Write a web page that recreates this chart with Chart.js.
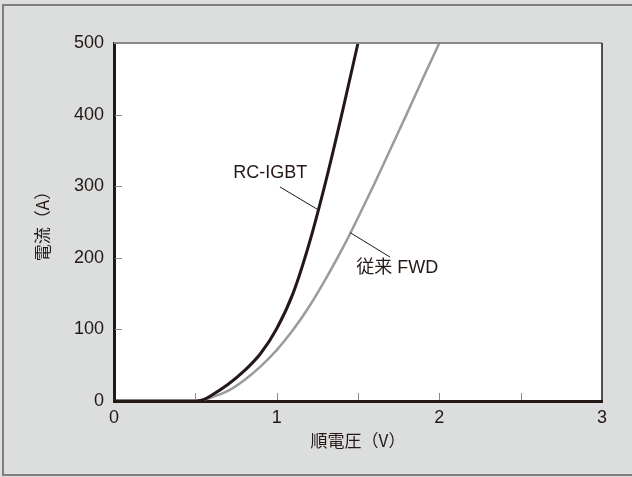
<!DOCTYPE html>
<html>
<head>
<meta charset="utf-8">
<script src="https://cdn.jsdelivr.net/npm/chart.js@4.4.0/dist/chart.umd.min.js"></script>
<style>
html, body { margin: 0; padding: 0; background: #dcdddd; }
#ivChart { display: block; }
</style>
</head>
<body>
<canvas id="ivChart" width="632" height="477"></canvas>
<script>
// forward voltage (V) vs current (A)
var igbtVoltage = [0, 0.5, 0.55, 0.6, 0.7, 0.8, 0.9, 1.0, 1.1, 1.2, 1.3, 1.4, 1.5];
var igbtCurrent = [0, 0, 2, 8, 23, 42, 66, 101, 150, 220, 305, 400, 500];
var fwdVoltage = [0, 0.5, 0.6, 0.7, 0.8, 0.9, 1.0, 1.1, 1.2, 1.3, 1.4, 1.5, 1.6, 1.7, 1.8, 1.9, 2.0];
var fwdCurrent = [0, 0, 5, 14, 29, 48, 71, 99, 132, 170, 211, 256, 303, 352, 401, 451, 500];
var seriesNames = ['RC-IGBT', '従来 FWD'];
var xTitle = '順電圧（V）';
var yTitle = '電流（A）';

var ink = '#231815';
var latin = '"Liberation Sans", "Noto Sans CJK JP", sans-serif';
var jp = '"Noto Sans CJK JP", sans-serif';

function toPoints(xs, ys) {
    var pts = [];
    for (var i = 0; i < xs.length; i++) {
        pts.push({ x: xs[i], y: ys[i] });
    }
    return pts;
}

// callout text + leader line, in data units
var callouts = [
    { text: seriesNames[0], tx: 0.96, ty: 318, align: 'center', from: [1.02, 299], to: [1.255, 267] },
    { text: seriesNames[1], tx: 1.49, ty: 186, align: 'left', from: [1.697, 201], to: [1.453, 235] }
];

var framePlugin = {
    id: 'frame',
    beforeDraw: function (chart) {
        var c = chart.ctx;
        var a = chart.chartArea;
        c.save();
        c.fillStyle = '#dcdddd';
        c.fillRect(0, 0, chart.width, chart.height);
        c.strokeStyle = '#7e7e7e';
        c.lineWidth = 2;
        c.beginPath();
        c.moveTo(chart.width, 5);
        c.lineTo(3, 5);
        c.lineTo(3, 475);
        c.lineTo(chart.width, 475);
        c.stroke();
        c.fillStyle = '#ffffff';
        c.fillRect(a.left, a.top, a.right - a.left, a.bottom - a.top);
        c.restore();
    },
    afterDatasetsDraw: function (chart) {
        var c = chart.ctx;
        var a = chart.chartArea;
        var xs = chart.scales.x;
        var ys = chart.scales.y;
        c.save();

        // top and right edges of the plot box
        c.strokeStyle = '#898989';
        c.lineWidth = 2;
        c.beginPath();
        c.moveTo(a.left, a.top);
        c.lineTo(a.right, a.top);
        c.stroke();
        c.strokeStyle = ink;
        c.lineWidth = 1.5;
        c.beginPath();
        c.moveTo(a.right, a.top);
        c.lineTo(a.right, a.bottom);
        c.stroke();

        // inward tick marks
        c.strokeStyle = '#8a8a8a';
        c.lineWidth = 1;
        c.beginPath();
        xs.ticks.forEach(function (t) {
            if (t.value <= xs.min || t.value >= xs.max) return;
            var px = Math.round(xs.getPixelForValue(t.value)) + 0.5;
            c.moveTo(px, a.bottom - 1);
            c.lineTo(px, a.bottom - 8);
        });
        ys.ticks.forEach(function (t) {
            if (t.value <= ys.min || t.value >= ys.max) return;
            var py = Math.round(ys.getPixelForValue(t.value)) + 0.5;
            c.moveTo(a.left + 1, py);
            c.lineTo(a.left + 8, py);
        });
        c.stroke();

        // callouts
        c.strokeStyle = ink;
        c.lineWidth = 1;
        c.fillStyle = ink;
        c.font = '18px ' + latin;
        c.textBaseline = 'middle';
        callouts.forEach(function (co) {
            c.beginPath();
            c.moveTo(xs.getPixelForValue(co.from[0]), ys.getPixelForValue(co.from[1]));
            c.lineTo(xs.getPixelForValue(co.to[0]), ys.getPixelForValue(co.to[1]));
            c.stroke();
            c.textAlign = co.align;
            c.fillText(co.text, xs.getPixelForValue(co.tx), ys.getPixelForValue(co.ty));
        });
        c.restore();
    }
};

document.addEventListener('DOMContentLoaded', function () {
    var ivChart = new Chart(document.getElementById('ivChart'), {
        type: 'scatter',
        data: {
            datasets: [{
                label: seriesNames[0],
                data: toPoints(igbtVoltage, igbtCurrent),
                showLine: true,
                borderColor: ink,
                borderWidth: 3,
                pointRadius: 0,
                cubicInterpolationMode: 'monotone'
            }, {
                label: seriesNames[1],
                data: toPoints(fwdVoltage, fwdCurrent),
                showLine: true,
                borderColor: '#9a9b9b',
                borderWidth: 2.5,
                pointRadius: 0,
                cubicInterpolationMode: 'monotone'
            }]
        },
        options: {
            responsive: false,
            animation: false,
            devicePixelRatio: 1,
            layout: { padding: { left: 0, top: 43, right: 30, bottom: 0 } },
            plugins: {
                legend: { display: false },
                tooltip: { enabled: false }
            },
            scales: {
                x: {
                    type: 'linear',
                    min: 0,
                    max: 3,
                    afterFit: function (s) { s.height = 76; },
                    grid: { display: false, drawTicks: false },
                    border: { display: true, color: ink, width: 3 },
                    ticks: {
                        stepSize: 0.5,
                        padding: 6,
                        autoSkip: false,
                        maxRotation: 0,
                        color: ink,
                        font: { family: latin, size: 18 },
                        callback: function (v) { return Number.isInteger(v) ? String(v) : ''; }
                    },
                    title: {
                        display: true,
                        text: xTitle,
                        color: ink,
                        font: { family: jp, size: 17 },
                        padding: { top: 0, bottom: 26 }
                    }
                },
                y: {
                    min: 0,
                    max: 500,
                    afterFit: function (s) { s.width = 114; },
                    grid: { display: false, drawTicks: false },
                    border: { display: true, color: ink, width: 3 },
                    ticks: {
                        stepSize: 100,
                        padding: 10,
                        color: ink,
                        font: { family: latin, size: 18 }
                    },
                    title: {
                        display: true,
                        text: yTitle,
                        color: ink,
                        font: { family: jp, size: 17 },
                        padding: { top: 32, bottom: 0 }
                    }
                }
            }
        },
        plugins: [framePlugin]
    });
});
</script>
</body>
</html>
